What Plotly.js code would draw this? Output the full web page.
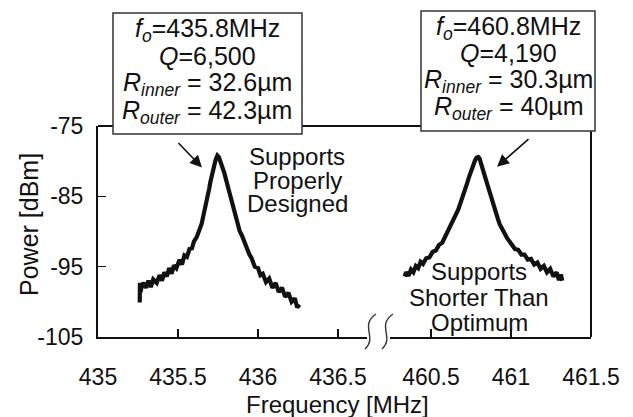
<!DOCTYPE html>
<html>
<head>
<meta charset="utf-8">
<script src="https://cdn.plot.ly/plotly-3.0.1.min.js"></script>
<style>html,body{margin:0;padding:0;background:#fff;}#chart{width:633px;height:417px;}</style>
</head>
<body>
<div id="chart"></div>
<script>
// ---- data ----
const leftFreq = [435.261,435.262,435.266,435.274,435.285,435.300,435.315,435.330,435.345,435.367,435.385,435.400,435.415,435.430,435.445,435.460,435.475,435.490,435.510,435.525,435.540,435.556,435.572,435.587,435.600,435.617,435.634,435.648,435.660,435.670,435.678,435.687,435.695,435.702,435.709,435.717,435.725,435.733,435.740,435.746,435.750,435.755,435.760,435.768,435.775,435.783,435.790,435.800,435.810,435.820,435.830,435.840,435.855,435.870,435.885,435.900,435.915,435.930,435.945,435.960,435.980,436.000,436.015,436.030,436.050,436.070,436.090,436.110,436.130,436.150,436.170,436.190,436.210,436.230,436.245,436.260];
const leftPow  = [-100.1,-97.3,-98.6,-97.7,-97.3,-98.0,-97.0,-97.9,-96.8,-97.3,-96.2,-97.0,-95.8,-96.4,-95.2,-96.0,-94.8,-95.2,-94.0,-94.7,-93.4,-93.6,-92.5,-92.4,-91.4,-90.8,-89.7,-88.9,-87.6,-86.7,-85.5,-84.8,-83.9,-83.0,-82.2,-81.4,-80.6,-80.0,-79.5,-79.2,-79.3,-79.4,-79.7,-80.2,-80.7,-81.2,-81.7,-82.6,-83.5,-84.4,-85.5,-86.4,-87.7,-88.6,-89.9,-90.6,-91.6,-92.3,-93.2,-93.8,-95.0,-95.2,-96.2,-96.0,-97.2,-96.7,-98.0,-97.3,-98.6,-98.0,-99.3,-98.7,-100.0,-99.5,-100.8,-100.4];
const rightFreq = [460.335,460.345,460.360,460.375,460.390,460.405,460.420,460.435,460.450,460.470,460.490,460.510,460.530,460.550,460.570,460.590,460.610,460.630,460.650,460.670,460.685,460.700,460.712,460.725,460.737,460.750,460.762,460.775,460.785,460.795,460.803,460.812,460.822,460.832,460.842,460.855,460.867,460.880,460.893,460.905,460.918,460.930,460.945,460.960,460.975,460.990,461.005,461.025,461.045,461.065,461.085,461.105,461.125,461.145,461.165,461.185,461.205,461.225,461.245,461.265,461.285,461.300,461.312,461.320];
const rightPow  = [-96.4,-95.8,-96.3,-95.4,-95.8,-94.9,-95.2,-94.3,-94.6,-93.8,-93.7,-92.9,-92.7,-91.9,-91.6,-90.7,-89.9,-88.9,-88.0,-86.9,-85.9,-85.0,-84.2,-83.2,-82.3,-81.4,-80.6,-79.9,-79.5,-79.4,-79.6,-80.2,-80.9,-81.7,-82.4,-83.5,-84.4,-85.5,-86.4,-87.4,-88.2,-89.0,-89.7,-90.4,-90.9,-91.4,-91.8,-92.5,-92.6,-93.3,-93.3,-94.0,-93.9,-94.7,-94.4,-95.3,-94.9,-95.8,-95.3,-96.4,-95.8,-96.9,-96.1,-97.0];
const yTicks = [-105,-95,-85,-75];
const xTicksLeft = [435,435.5,436,436.5];
const xTicksRight = [460.5,461,461.5];
const boxLeftLines = ['<i>f</i><sub><i>o</i></sub>=435.8MHz','<i>Q</i>=6,500','<i>R</i><sub><i>inner</i></sub> = 32.6\u00b5m','<i>R</i><sub><i>outer</i></sub> = 42.3\u00b5m'];
const boxRightLines = ['<i>f</i><sub><i>o</i></sub>=460.8MHz','<i>Q</i>=4,190','<i>R</i><sub><i>inner</i></sub> = 30.3\u00b5m','<i>R</i><sub><i>outer</i></sub> = 40\u00b5m'];
const noteLeft = ['Supports','Properly','Designed'];
const noteRight = ['Supports','Shorter Than','Optimum'];

// ---- layout helpers (pixel -> paper) ----
const L=98, R=42, T=126, B=80, W=633, H=417;
const PW=W-L-R, PH=H-T-B;
const px = x => (x-L)/PW;
const py = y => (H-B-y)/PH;
const FONT = '"Liberation Sans", Arial, sans-serif';
const INK = '#111';

const traces = [
  {x:leftFreq, y:leftPow, xaxis:'x', yaxis:'y', mode:'lines', line:{color:INK,width:4.2}, hoverinfo:'skip'},
  {x:rightFreq, y:rightPow, xaxis:'x2', yaxis:'y', mode:'lines', line:{color:INK,width:4.2}, hoverinfo:'skip'}
];

const axBase = {showgrid:false, zeroline:false, showline:true, linecolor:INK, linewidth:2,
  ticks:'inside', ticklen:8, tickwidth:1.5, tickcolor:INK,
  tickfont:{family:FONT,size:23,color:INK}};

const annotations = [];
function textLine(t, x, y, size){
  annotations.push({xref:'paper', yref:'paper', x:px(x), y:py(y), text:t, showarrow:false,
    xanchor:'center', yanchor:'middle', font:{family:FONT,size:size,color:INK}});
}
const lbY = [30,56,84,112];
boxLeftLines.forEach((t,i)=>textLine(t,207,lbY[i],25));
const rbY = [28,53,81,108];
boxRightLines.forEach((t,i)=>textLine(t,508,rbY[i],25));
const nlY = [156,180,203];
noteLeft.forEach((t,i)=>textLine(t,297,nlY[i],24));
const nrY = [271,297,322];
noteRight.forEach((t,i)=>textLine(t,479,nrY[i],24));
// axis titles
textLine('Frequency [MHz]',337,404,24);
annotations.push({xref:'paper', yref:'paper', x:px(29), y:py(225), text:'Power [dBm]', textangle:-90,
  showarrow:false, xanchor:'center', yanchor:'middle', font:{family:FONT,size:25,color:INK}});
// arrows pointing at the peaks
annotations.push({xref:'x', yref:'y', x:435.65, y:-80.9, ax:-25, ay:-26, text:'', showarrow:true,
  arrowhead:2, arrowsize:1.5, arrowwidth:1.6, arrowcolor:INK, standoff:0});
annotations.push({xref:'x2', yref:'y', x:460.9125, y:-80.8, ax:33, ay:-29, text:'', showarrow:true,
  arrowhead:2, arrowsize:1.5, arrowwidth:1.6, arrowcolor:INK, standoff:0});

const shapes = [
  // top and right frame
  {type:'line', xref:'paper', yref:'paper', x0:0, x1:1, y0:1, y1:1, line:{color:INK,width:2}},
  {type:'line', xref:'paper', yref:'paper', x0:1, x1:1, y0:0, y1:1, line:{color:INK,width:2}},
  // boxes
  {type:'rect', xref:'paper', yref:'paper', x0:px(113), x1:px(302), y0:py(134), y1:py(13),
    line:{color:'#333',width:1.5}, fillcolor:'#fff', layer:'above'},
  {type:'rect', xref:'paper', yref:'paper', x0:px(421), x1:px(595), y0:py(131), y1:py(11),
    line:{color:'#333',width:1.5}, fillcolor:'#fff', layer:'above'},
  // axis break marks
  {type:'path', xref:'paper', yref:'paper', line:{color:'#333',width:1.4},
    path:`M ${px(365)},${py(349)} C ${px(378)},${py(337)} ${px(359)},${py(326)} ${px(376)},${py(314)}`},
  {type:'path', xref:'paper', yref:'paper', line:{color:'#333',width:1.4},
    path:`M ${px(382)},${py(349)} C ${px(395)},${py(337)} ${px(376)},${py(326)} ${px(393)},${py(314)}`}
];

const layout = {
  width:W, height:H, margin:{l:L,r:R,t:T,b:B,pad:0},
  paper_bgcolor:'#fff', plot_bgcolor:'#fff', showlegend:false,
  xaxis:Object.assign({}, axBase, {domain:[0, px(367)], range:[435, 435+(367-L)/160],
    tickmode:'array', tickvals:xTicksLeft, ticktext:xTicksLeft.map(String), anchor:'y', ticklabelstandoff:18}),
  xaxis2:Object.assign({}, axBase, {domain:[px(390), 1], range:[461.5-(W-R-390)/160, 461.5],
    tickmode:'array', tickvals:xTicksRight, ticktext:xTicksRight.map(String), anchor:'y', ticklabelstandoff:18}),
  yaxis:Object.assign({}, axBase, {range:[-105,-75], tickmode:'array', tickvals:yTicks,
    ticktext:yTicks.map(String), anchor:'x', ticklabelstandoff:8}),
  annotations:annotations, shapes:shapes
};

Plotly.newPlot('chart', traces, layout, {staticPlot:true, displayModeBar:false});
</script>
</body>
</html>
